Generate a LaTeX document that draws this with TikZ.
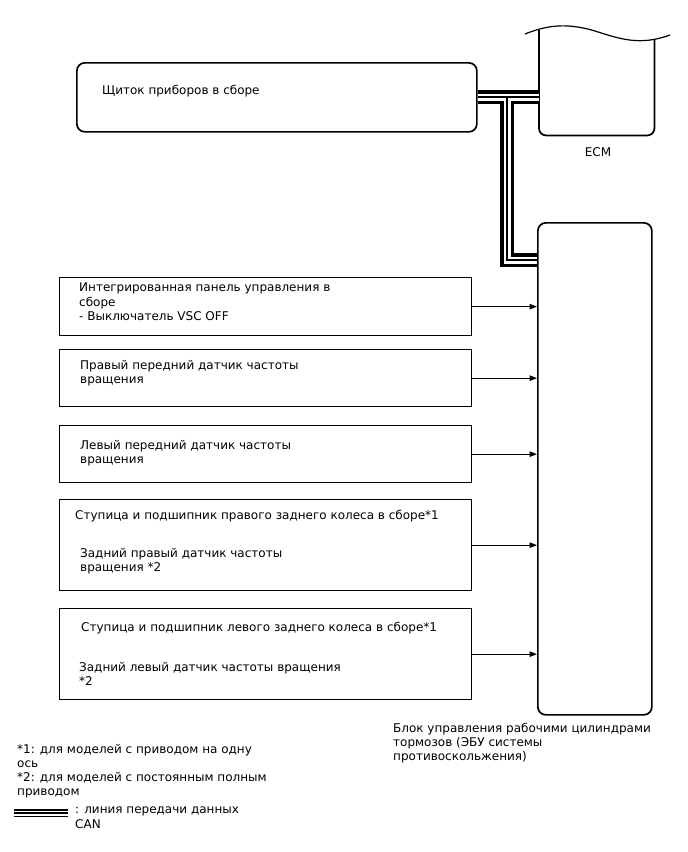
\documentclass[tikz,border=0pt]{standalone}
\usepackage{fontspec}
\setmainfont{DejaVu Sans}
\usetikzlibrary{arrows.meta,positioning}

\begin{document}
\begin{tikzpicture}[x=1pt,y=-1pt,
	font=\fontsize{12}{14.2}\selectfont,
	txt/.style={anchor=north west,inner sep=0pt,align=left},
	unitbox/.style={draw,line width=1.3pt,inner sep=0pt,anchor=north west,minimum width=412pt},
	ecubox/.style={draw,line width=1.7pt,rounded corners=8pt,inner sep=0pt,anchor=north west},
	sig/.style={line width=1.2pt,-{Triangle[length=7.5pt,width=5.5pt]}}]
	\useasboundingbox (0,0) rectangle (688,852);
	% блоки
	\node[ecubox,minimum width=400pt,minimum height=69pt] (clus) at (76,62) {};
	\node[inner sep=0pt,anchor=north west,minimum width=115pt,minimum height=105pt] (ecm) at (539,30) {};
	\node[ecubox,minimum width=114pt,minimum height=492pt] (abs) at (537,222) {};
	\node[unitbox,minimum height=58pt] (b1) at (59,277) {};
	\node[unitbox,minimum height=57pt] (b2) at (59,349) {};
	\node[unitbox,minimum height=57pt] (b3) at (59,425) {};
	\node[unitbox,minimum height=91pt] (b4) at (59,499) {};
	\node[unitbox,minimum height=91pt] (b5) at (59,608) {};
	% ECM
	\draw[line width=1.7pt,rounded corners=7pt] (ecm.north west) -- (ecm.south west)
		-- (ecm.south east) -- ([yshift=-10pt]ecm.north east);
	\draw[line width=1.2pt] (525,34) .. controls (545,26) and (565,22) .. (595,31)
		.. controls (620,39) and (640,46) .. (670,35);
	\node[inner sep=0pt] (ecmlbl) at (598,152) {ECM};
	% CAN
	\coordinate (tee) at (507,96.5);
	\path (abs.north west) ++(0,38) coordinate (absin);
	\foreach \w/\c in {14/black,7/white,1.8/black}
		\draw[line width=\w pt,\c] (clus.east) -- (clus.east -| ecm.west)
			(tee) |- (absin);
	% сигналы
	\foreach \b in {b1,b2,b3,b4,b5}
		\draw[sig] (\b.east) -- (\b.east -| abs.west);
	% тексты
	\node[txt] (t0) at (102,85) {Щиток приборов в сборе};
	\node[txt] (t1) at (79,283) {Интегрированная панель управления в\\сборе\\- Выключатель VSC OFF};
	\node[txt] (t2) at (80,360) {Правый передний датчик частоты\\вращения};
	\node[txt] (t3) at (80,440) {Левый передний датчик частоты\\вращения};
	\node[txt] (t4a) at (75,510) {Ступица и подшипник правого заднего колеса в сборе*1};
	\node[txt] (t4b) at (80,548) {Задний правый датчик частоты\\вращения *2};
	\node[txt] (t5a) at (81,622) {Ступица и подшипник левого заднего колеса в сборе*1};
	\node[txt] (t5b) at (79,662) {Задний левый датчик частоты вращения\\*2};
	\node[txt] (abslbl) at (393,723) {Блок управления рабочими цилиндрами\\тормозов (ЭБУ системы\\противоскольжения)};
	\node[txt] (notes) at (17,744) {*1: для моделей с приводом на одну\\ось\\*2: для моделей с постоянным полным\\приводом};
	% легенда
	\node[txt] (lgtxt) at (75,807) {: линия передачи данных\\CAN};
	\coordinate (lgA) at (14,813);
	\coordinate (lgB) at (68,813);
	\foreach \w/\c in {8.5/black,5/white,1.2/black}
		\draw[line width=\w pt,\c] (lgA) -- (lgB);
\end{tikzpicture}
\end{document}
